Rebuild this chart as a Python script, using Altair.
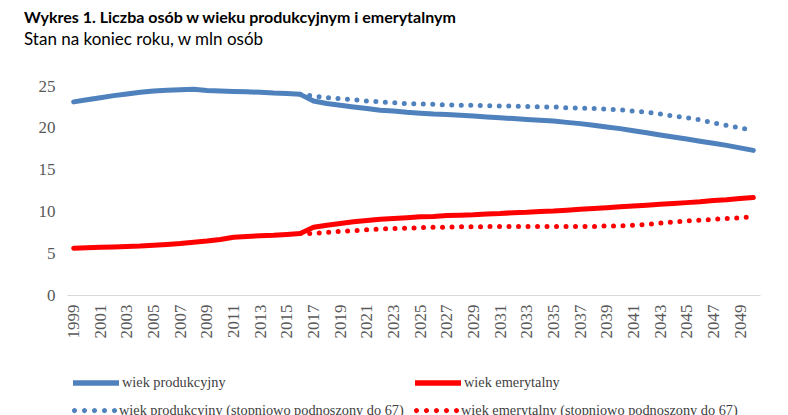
import altair as alt
import pandas as pd

years_all = list(range(1999, 2051))
prod = [23.1, 23.35, 23.6, 23.85, 24.05, 24.25, 24.4, 24.5, 24.55, 24.6,
        24.45, 24.4, 24.35, 24.3, 24.25, 24.15, 24.1, 24.0,
        23.2, 22.9, 22.7, 22.5, 22.3, 22.1, 22.0, 21.85, 21.75, 21.65,
        21.6, 21.5, 21.4, 21.3, 21.2, 21.1, 21.0, 20.9, 20.8, 20.65,
        20.5, 20.3, 20.1, 19.9, 19.65, 19.4, 19.15, 18.9, 18.65, 18.4,
        18.15, 17.9, 17.6, 17.3]
emer = [5.6, 5.65, 5.7, 5.75, 5.8, 5.85, 5.95, 6.05, 6.15, 6.3,
        6.45, 6.65, 6.9, 7.0, 7.1, 7.15, 7.25, 7.35,
        8.1, 8.35, 8.55, 8.75, 8.9, 9.05, 9.15, 9.25, 9.35, 9.4,
        9.5, 9.55, 9.6, 9.7, 9.75, 9.85, 9.9, 10.0, 10.05, 10.15,
        10.25, 10.35, 10.45, 10.55, 10.65, 10.75, 10.85, 10.95, 11.05, 11.15,
        11.3, 11.4, 11.55, 11.65]

years_proj = list(range(2016, 2051))
prod67 = [24.0, 23.8, 23.6, 23.5, 23.35, 23.2, 23.1, 23.0, 22.9, 22.85,
          22.8, 22.75, 22.7, 22.7, 22.65, 22.6, 22.6, 22.55, 22.5, 22.5,
          22.4, 22.35, 22.3, 22.25, 22.15, 22.0, 21.85, 21.65, 21.4, 21.2,
          20.95, 20.6, 20.3, 20.0, 19.7]
emer67 = [7.35, 7.35, 7.5, 7.6, 7.7, 7.8, 7.9, 7.95, 8.0, 8.05,
          8.1, 8.1, 8.15, 8.15, 8.2, 8.2, 8.2, 8.2, 8.2, 8.2,
          8.2, 8.2, 8.2, 8.25, 8.25, 8.35, 8.45, 8.6, 8.75, 8.85,
          8.95, 9.05, 9.15, 9.25, 9.35]

solid_names = ["wiek produkcyjny", "wiek emerytalny"]
dotted_names = ["wiek produkcyjny (stopniowo podnoszony do 67)",
                "wiek emerytalny (stopniowo podnoszony do 67)"]
series_colors = ["#4F81BD", "#FF0000"]
x_labels = list(range(1999, 2050, 2))
y_ticks = [0, 5, 10, 15, 20, 25]

rows = []
for name, yrs, vals, kind in [
    (solid_names[0], years_all, prod, "solid"),
    (solid_names[1], years_all, emer, "solid"),
    (dotted_names[0], years_proj, prod67, "dotted"),
    (dotted_names[1], years_proj, emer67, "dotted"),
]:
    for yr, v in zip(yrs, vals):
        rows.append({"rok": yr, "wartosc": v, "seria": name, "typ": kind})
df = pd.DataFrame(rows)

serif = "Liberation Serif"

# dotted legend symbol: five small dots (unit coordinates, scaled by symbol size)
r = 0.055
dot_centers = [-0.87, -0.435, 0.0, 0.435, 0.87]
dot_path = " ".join(
    f"M{c - r:.3f},0 a{r},{r} 0 1,0 {2 * r:.3f},0 a{r},{r} 0 1,0 {-2 * r:.3f},0"
    for c in dot_centers
)

x_enc = alt.X("rok:O", title=None,
              scale=alt.Scale(type="point", padding=0.5),
              axis=alt.Axis(values=x_labels, labelAngle=270, ticks=False,
                            domainColor="#D9D9D9", domainWidth=1,
                            labelFont=serif, labelFontSize=17, labelColor="#595959",
                            labelPadding=9))
y_enc = alt.Y("wartosc:Q", title=None,
              scale=alt.Scale(domain=[0, 25], nice=False),
              axis=alt.Axis(values=y_ticks, grid=False, domain=False, ticks=False,
                            labelFont=serif, labelFontSize=17, labelColor="#595959",
                            labelPadding=12))

base = alt.Chart(df)

solid = base.transform_filter(alt.datum.typ == "solid").mark_line(
    strokeWidth=5, strokeCap="round", strokeJoin="round"
).encode(
    x=x_enc, y=y_enc,
    color=alt.Color("seria:N", title=None,
                    scale=alt.Scale(domain=solid_names, range=series_colors),
                    legend=alt.Legend(orient="none", legendX=3, legendY=271,
                                      direction="horizontal", columns=2,
                                      columnPadding=178,
                                      symbolType="stroke", symbolSize=2116,
                                      symbolStrokeWidth=5.5, labelOffset=0,
                                      labelFont=serif, labelFontSize=14.3,
                                      labelColor="#404040", labelLimit=400,
                                      padding=0)),
)

dotted = base.transform_filter(alt.datum.typ == "dotted").mark_line(
    strokeWidth=5, strokeCap="round", strokeDash=[0, 9.5]
).encode(
    x=x_enc, y=y_enc,
    stroke=alt.Stroke("seria:N", title=None,
                      scale=alt.Scale(domain=dotted_names, range=series_colors),
                      legend=alt.Legend(orient="none", legendX=3, legendY=300,
                                        direction="horizontal", columns=2,
                                        columnPadding=6,
                                        symbolType=dot_path, symbolSize=2116,
                                        symbolStrokeWidth=2.6, symbolDash=[1, 0],
                                        labelOffset=0,
                                        labelFont=serif, labelFontSize=14.3,
                                        labelColor="#404040", labelLimit=400,
                                        padding=0)),
)

chart = alt.layer(solid, dotted).resolve_scale(
    color="independent", stroke="independent"
).properties(
    width=693,
    height=209,
    padding={"left": 16, "top": 2, "right": 5, "bottom": 5},
    title=alt.TitleParams(
        text="Wykres 1. Liczba osób w wieku produkcyjnym i emerytalnym",
        subtitle="Stan na koniec roku, w mln osób",
        anchor="start", frame="group", dx=-43,
        font="Lato", fontSize=16, fontWeight="bold", color="#000000",
        subtitleFont="Lato", subtitleFontSize=17, subtitleColor="#000000",
        subtitlePadding=6, offset=29,
    ),
).configure_view(stroke=None)

chart.save("out.html", embed_options={"renderer": "svg", "actions": False})
